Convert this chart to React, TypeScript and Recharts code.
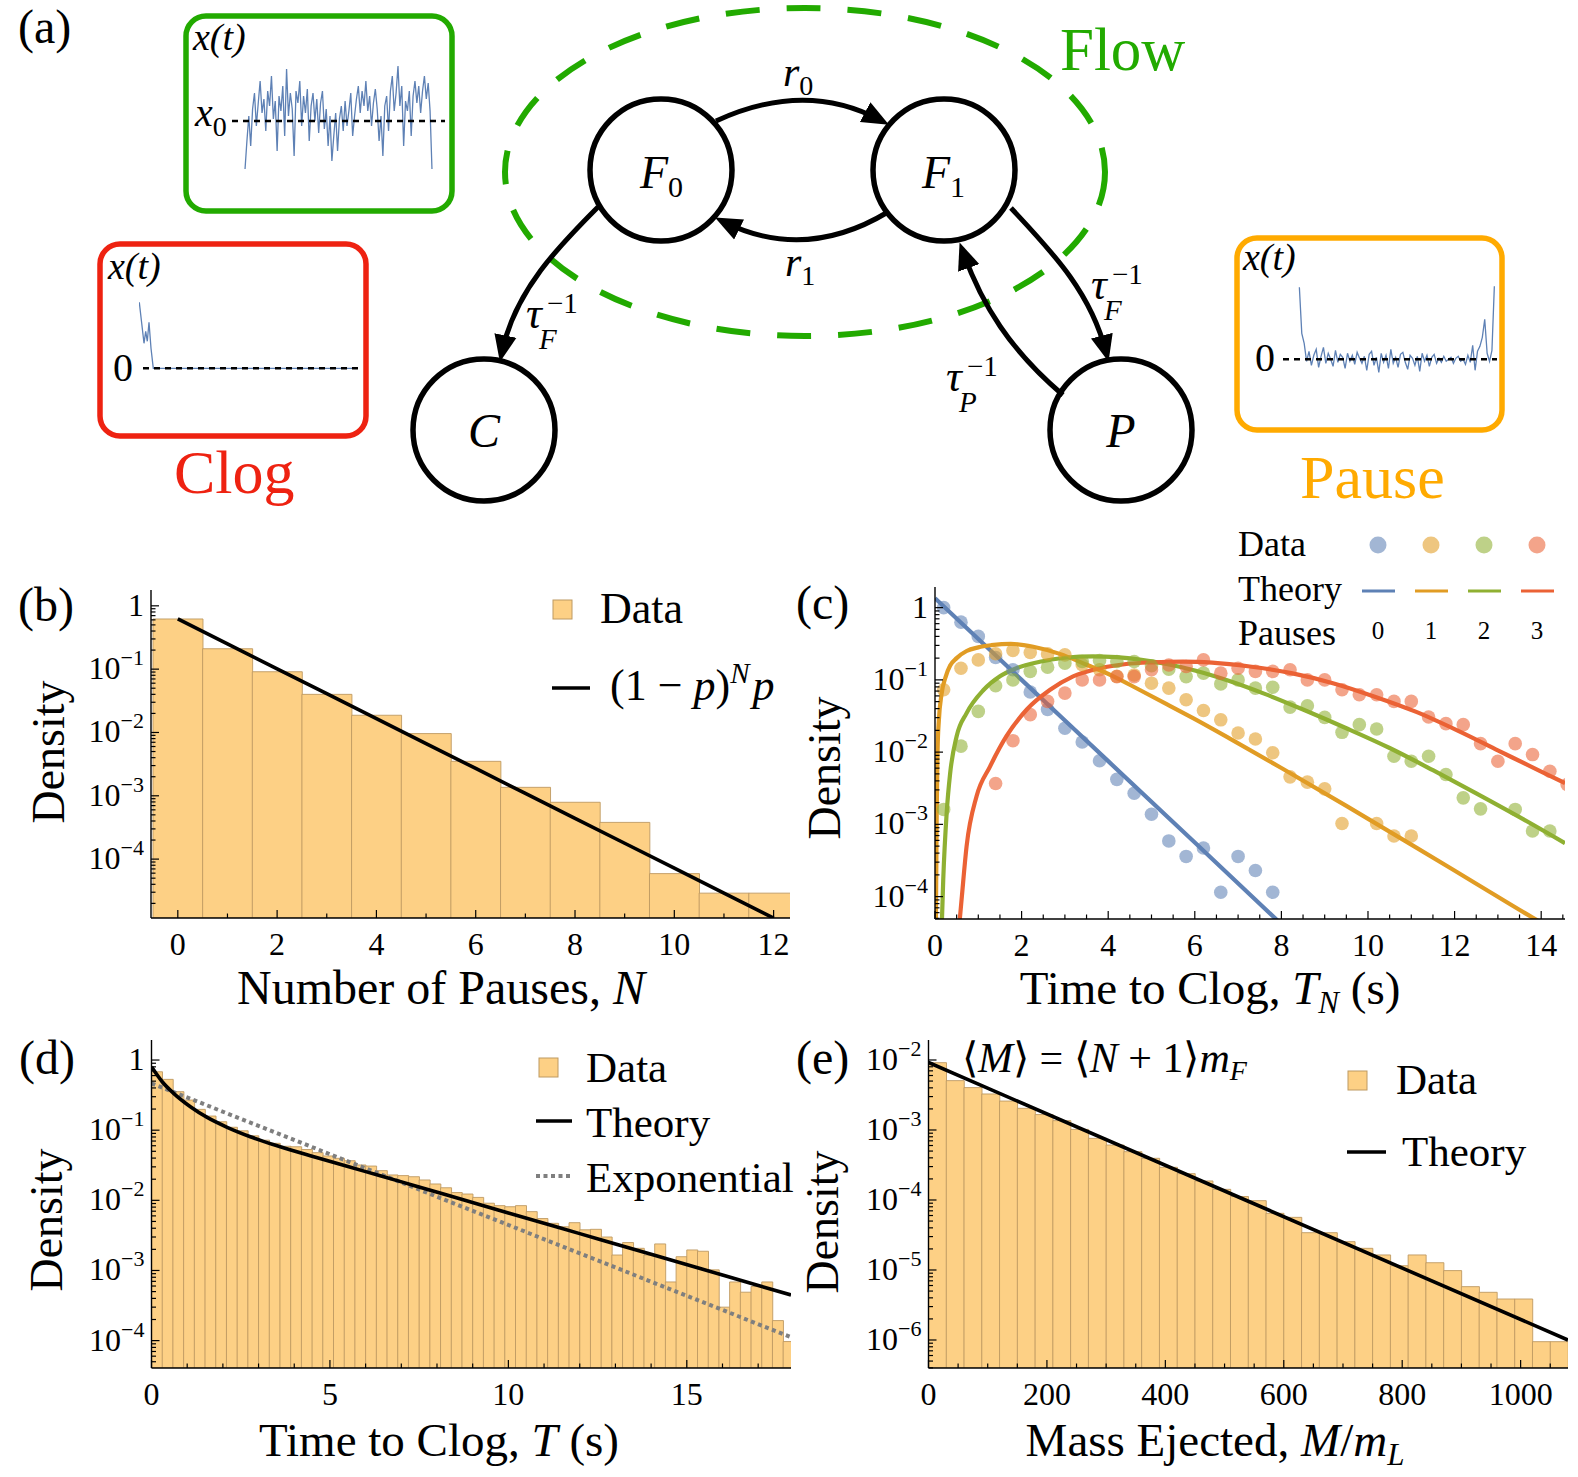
import React from 'react';
import { ComposedChart, LineChart, Line, Bar, Scatter, XAxis, YAxis, ReferenceLine } from 'recharts';

const FONT = '"Liberation Serif", "Times New Roman", serif';
const BAR_FILL = '#FDD085';
const BAR_STROKE = '#BE9A62';
const C_BLUE = '#5E81B5';
const C_ORANGE = '#E19C24';
const C_GREEN = '#8FB032';
const C_RED = '#EB6235';
const FLOW_GREEN = '#22AA00';
const CLOG_RED = '#EE2211';
const PAUSE_ORANGE = '#FFAA00';

// ---------- (b) number of pauses ----------
const pauseCounts = [0, 1, 2, 3, 4, 5, 6, 7, 8, 9, 10, 11, 12];
const pauseDensity = [0.62, 0.21, 0.091, 0.04, 0.0187, 0.0096, 0.0035, 0.00136, 0.00079, 0.00038, 0.000059, 0.000029, 0.000029];
const pauseTheory = [0.62, 0.25, 0.101, 0.0409, 0.0165, 0.00668, 0.0027, 0.00109, 0.00044, 0.000178, 0.000072, 0.000029, 0.0000117];
const pauseXMajors = [0, 2, 4, 6, 8, 10, 12];
const pauseDecades = [1, 0.1, 0.01, 0.001, 0.0001];

// ---------- (c) time to clog by number of pauses ----------
const clogBinCenters = [0.2, 0.6, 1.0, 1.4, 1.8, 2.2, 2.6, 3.0, 3.4, 3.8, 4.2, 4.6, 5.0, 5.4, 5.8, 6.2, 6.6, 7.0, 7.4, 7.8, 8.2, 8.6, 9.0, 9.4, 9.8, 10.2, 10.6, 11.0, 11.4, 11.8, 12.2, 12.6, 13.0, 13.4, 13.8, 14.2, 14.6];
const clogData0 = [1.0, 0.63, 0.4, 0.204, 0.138, 0.068, 0.039, 0.0214, 0.0138, 0.0076, 0.0042, 0.0027, 0.00138, 0.00059, 0.00036, 0.00047, 0.000115, 0.00036, 0.00023, 0.000115];
const clogData1 = [0.073, 0.145, 0.189, 0.23, 0.255, 0.239, 0.229, 0.222, 0.162, 0.138, 0.112, 0.117, 0.09, 0.077, 0.053, 0.0377, 0.028, 0.0184, 0.0152, 0.0098, 0.00455, 0.00384, 0.0031, 0.00103, null, 0.00103, 0.00069, 0.00069];
const clogData2 = [0.00161, 0.0121, 0.0366, 0.083, 0.1, 0.131, 0.15, 0.17, 0.18, 0.185, 0.18, 0.18, 0.157, 0.141, 0.111, 0.124, 0.088, 0.1, 0.077, 0.079, 0.042, 0.0439, 0.0303, 0.0188, 0.024, 0.0209, 0.00877, 0.00748, 0.00877, 0.0049, 0.00233, 0.00164, null, 0.00161, 0.00081, 0.00081];
const clogData3 = [null, null, null, 0.00368, 0.0144, 0.033, 0.0504, 0.0656, 0.1, 0.1, 0.111, 0.111, 0.138, 0.161, 0.153, 0.189, 0.124, 0.145, 0.131, 0.131, 0.138, 0.1, 0.1, 0.073, 0.0622, 0.0622, 0.0504, 0.0504, 0.0306, 0.0248, 0.024, 0.0131, 0.00748, 0.0131, 0.00925, 0.00544, 0.00356];
const theoryT0 = [0, 2, 4, 6, 8];
const theoryV0 = [1.35, 0.1, 0.0075, 0.00056, 0.0000415];
const theoryT1 = [0.02, 0.04, 0.06, 0.09, 0.15, 0.25, 0.35, 0.5, 0.73, 1.0, 1.3, 1.75, 2.27, 2.88, 3.5, 4.12, 4.73, 5.35, 5.96, 6.8, 8.0, 9.5, 11.0, 12.5, 13.8, 14.0];
const theoryV1 = [0.00004, 0.0016, 0.011, 0.028, 0.063, 0.112, 0.158, 0.2, 0.251, 0.282, 0.302, 0.316, 0.288, 0.229, 0.162, 0.112, 0.0724, 0.0462, 0.0295, 0.0155, 0.00603, 0.0018, 0.000525, 0.000151, 0.0000513, 0.0000437];
const theoryT2 = [0.15, 0.19, 0.27, 0.35, 0.5, 0.73, 1.12, 1.5, 1.88, 2.42, 3.04, 3.65, 4.19, 4.73, 5.35, 6.0, 6.8, 7.6, 8.5, 9.5, 10.5, 11.5, 12.5, 13.5, 14.55];
const theoryV2 = [0.00003, 0.00017, 0.00145, 0.0051, 0.0166, 0.0347, 0.0724, 0.112, 0.145, 0.178, 0.204, 0.212, 0.206, 0.191, 0.166, 0.135, 0.0966, 0.0646, 0.0389, 0.0214, 0.0114, 0.00562, 0.00269, 0.00126, 0.00055];
const theoryT3 = [0.56, 0.62, 0.73, 0.96, 1.27, 1.65, 2.12, 2.65, 3.19, 3.81, 4.42, 5.04, 5.73, 6.4, 7.27, 8.23, 9.19, 10.14, 11.1, 12.06, 13.01, 14.0, 14.55];
const theoryV3 = [0.00004, 0.0001, 0.0005, 0.00245, 0.0063, 0.0166, 0.0389, 0.0724, 0.112, 0.145, 0.166, 0.175, 0.179, 0.173, 0.153, 0.124, 0.09, 0.059, 0.0363, 0.02, 0.0105, 0.00537, 0.00372];
const clogXMajors = [0, 2, 4, 6, 8, 10, 12, 14];
const clogDecades = [1, 0.1, 0.01, 0.001, 0.0001];

// ---------- (d) time to clog ----------
const timeBinCenters = [0.15, 0.45, 0.75, 1.05, 1.35, 1.65, 1.95, 2.25, 2.55, 2.85, 3.15, 3.45, 3.75, 4.05, 4.35, 4.65, 4.95, 5.25, 5.55, 5.85, 6.15, 6.45, 6.75, 7.05, 7.35, 7.65, 7.95, 8.25, 8.55, 8.85, 9.15, 9.45, 9.75, 10.05, 10.35, 10.65, 10.95, 11.25, 11.55, 11.85, 12.15, 12.45, 12.75, 13.05, 13.35, 13.65, 13.95, 14.25, 14.55, 14.85, 15.15, 15.45, 15.75, 16.05, 16.35, 16.65, 16.95, 17.25, 17.55, 17.85];
const timeDensity = [0.68, 0.53, 0.354, 0.269, 0.198, 0.159, 0.132, 0.11, 0.098, 0.083, 0.072, 0.065, 0.059, 0.058, 0.053, 0.0478, 0.0429, 0.0397, 0.0367, 0.0319, 0.0308, 0.0265, 0.023, 0.0225, 0.0217, 0.0195, 0.0171, 0.0151, 0.0129, 0.0123, 0.011, 0.0091, 0.0084, 0.0081, 0.0084, 0.0069, 0.0055, 0.0047, 0.0042, 0.0048, 0.0038, 0.00386, 0.003, 0.00166, 0.0025, 0.00207, 0.00166, 0.00239, 0.000686, 0.00157, 0.00196, 0.00188, 0.00102, 0.0003, 0.000686, 0.00049, 0.00059, 0.000686, 0.000193, 0.000097];
const timeTheoryT = [0, 0.3, 0.62, 1.09, 1.56, 2.12, 2.77, 3.61, 4.55, 5.48, 6.41, 7.35, 8.28, 10, 12, 14, 16, 17.92];
const timeTheoryV = [0.8, 0.49, 0.335, 0.216, 0.152, 0.11, 0.0807, 0.0582, 0.0419, 0.0305, 0.0224, 0.0163, 0.0119, 0.0066, 0.00335, 0.0017, 0.00086, 0.000447];
const timeExpT = [0, 9, 17.92];
const timeExpV = [0.465, 0.00708, 0.000112];
const timeXMajors = [0, 5, 10, 15];
const timeDecades = [1, 0.1, 0.01, 0.001, 0.0001];

// ---------- (e) mass ejected ----------
const massBinCenters = [15, 45, 75, 105, 135, 165, 195, 225, 255, 285, 315, 345, 375, 405, 435, 465, 495, 525, 555, 585, 615, 645, 675, 705, 735, 765, 795, 825, 855, 885, 915, 945, 975, 1005, 1035, 1065];
const massDensity = [0.00916, 0.00507, 0.00403, 0.00327, 0.00259, 0.00204, 0.00166, 0.00136, 0.00102, 0.00076, 0.00061, 0.00049, 0.000394, 0.000293, 0.000238, 0.000187, 0.000142, 0.000112, 0.0000978, 0.0000645, 0.0000565, 0.0000341, 0.0000341, 0.0000254, 0.0000204, 0.0000164, 0.0000115, 0.0000164, 0.0000127, 0.0000098, 0.00000578, 0.0000048, 0.00000385, 0.00000385, 0.000000946, 0.000000946];
const massTheoryM = [0, 540, 1080];
const massTheoryV = [0.0092, 0.000096, 0.000001];
const massXMajors = [0, 200, 400, 600, 800, 1000];
const massDecades = [0.01, 0.001, 0.0001, 0.00001, 0.000001];

// ---------- (a) inset traces ----------
const flowTrace = [-48, -20, 5, -25, 12, 28, -5, 18, 40, 8, 22, -10, 30, 15, 45, 2, 20, -30, 25, 10, 35, -15, 52, 5, 28, 12, -35, 30, 18, 40, -5, 25, 8, 32, -20, 15, 28, 0, 22, -12, 18, 30, -8, 12, -25, 5, -40, -15, 8, -30, 2, 15, -10, 20, -5, 10, 28, -15, 5, 22, 35, 8, 30, 15, 40, 10, 25, -5, 18, 32, 12, -20, 5, -35, 15, 25, -10, 30, 45, 10, 28, 55, 15, 35, -25, 20, 10, 30, -15, 25, 40, 18, 35, 8, 30, 45, 22, 38, 10, -48];
const clogTraceX = [0.3, 2.7, 5, 6.7, 8.3, 10, 12, 14.3, 219];
const clogTraceV = [66, 45, 25, 37, 27, 46, 20, 0, 0];
const pauseTrace = [72, 26, 16, -2, 8, -6, 4, 10, -8, 3, 12, -4, 6, 0, -7, 9, -3, 5, 2, -9, 6, -2, 4, -5, 7, 1, -4, 3, -11, 5, 8, -6, 2, -13, 6, -3, 4, -9, 10, -4, 2, -8, 5, 7, -3, -10, 4, 1, -6, 3, -12, 6, -2, 4, -7, 2, 5, -4, 1, -3, 3, -2, 0, 2, -4, 1, 3, -2, 0, -5, 4, -3, 14, -11, 8, 13, 22, 40, 6, -2, 9, 73];

// ---------- helpers ----------
const YW = 60;
const XH = 40;
const range = (a: number, b: number, s: number) => {
  const o: number[] = [];
  for (let i = 0; a + i * s <= b + 1e-9; i++) o.push(+(a + i * s).toFixed(6));
  return o;
};
const logTicks = (lo: number, hi: number) => {
  const o: number[] = [];
  for (let e = Math.floor(Math.log10(lo)); e <= Math.ceil(Math.log10(hi)); e++) {
    for (let m = 1; m <= 9; m++) {
      const v = m * Math.pow(10, e);
      if (v >= lo && v <= hi) o.push(v);
    }
  }
  return o;
};
const near = (list: number[], v: number) => list.some((m) => Math.abs(m - v) <= Math.abs(m) * 1e-6 + 1e-9);

const YTick = (props: any) => {
  const { y, payload, pl, majors } = props;
  const v = payload.value;
  const major = near(majors, v);
  const e = Math.round(Math.log10(v));
  return (
    <g>
      <line x1={pl} x2={pl + (major ? 8 : 4.5)} y1={y} y2={y} stroke="#000" strokeWidth={1.2} />
      {major && (
        <text x={pl - 7} y={y + 10} textAnchor="end" fontFamily={FONT} fontSize={32} fill="#000">
          {e === 0 ? '1' : (
            <>
              10<tspan dy={-14} fontSize={22}>{'\u2212' + Math.abs(e)}</tspan>
            </>
          )}
        </text>
      )}
    </g>
  );
};

const XTick = (props: any) => {
  const { x, payload, pb, majors } = props;
  const v = payload.value;
  const major = near(majors, v);
  return (
    <g>
      <line x1={x} x2={x} y1={pb} y2={pb - (major ? 8 : 4.5)} stroke="#000" strokeWidth={1.2} />
      {major && (
        <text x={x} y={pb + 37} textAnchor="middle" fontFamily={FONT} fontSize={32} fill="#000">
          {v}
        </text>
      )}
    </g>
  );
};

type Box = { left: number; top: number; width: number; height: number };
type Plot = { l: number; r: number; t: number; b: number };
const marginOf = (box: Box, plot: Plot) => ({
  left: plot.l - box.left - YW,
  top: plot.t - box.top,
  right: box.left + box.width - plot.r,
  bottom: box.top + box.height - plot.b - XH,
});

type CurveSpec = { data: { x: number; y: number }[]; stroke: string; width: number; dash?: string; curve: 'linear' | 'monotone' };

function HistPanel(p: {
  box: Box; plot: Plot; xDomain: [number, number]; yDomain: [number, number];
  xTicks: number[]; xMajors: number[]; yMajors: number[];
  bins: { x: number; y: number }[]; curves: CurveSpec[];
}) {
  const m = marginOf(p.box, p.plot);
  const pl = p.plot.l - p.box.left;
  const pb = p.plot.b - p.box.top;
  return (
    <div style={{ position: 'absolute', left: p.box.left, top: p.box.top }}>
      <ComposedChart width={p.box.width} height={p.box.height} data={p.bins} margin={m} barCategoryGap={0} barGap={0}>
        <Bar xAxisId="bins" dataKey="y" fill={BAR_FILL} stroke={BAR_STROKE} strokeWidth={0.9} isAnimationActive={false} />
        {p.curves.map((c, i) => (
          <Line key={i} xAxisId="curve" data={c.data} dataKey="y" type={c.curve} stroke={c.stroke} strokeWidth={c.width}
            strokeDasharray={c.dash} dot={false} activeDot={false} isAnimationActive={false} />
        ))}
        <XAxis xAxisId="bins" type="number" dataKey="x" domain={p.xDomain} allowDataOverflow ticks={p.xTicks} interval={0}
          height={XH} tickSize={0} tickMargin={0} tickLine={false} axisLine={{ stroke: '#000', strokeWidth: 1.4 }}
          tick={<XTick pb={pb} majors={p.xMajors} />} />
        <XAxis xAxisId="curve" type="number" dataKey="x" domain={p.xDomain} allowDataOverflow hide />
        <YAxis type="number" scale="log" domain={p.yDomain} allowDataOverflow ticks={logTicks(p.yDomain[0], p.yDomain[1])} interval={0}
          width={YW} tickSize={0} tickMargin={0} tickLine={false} axisLine={{ stroke: '#000', strokeWidth: 1.4 }}
          tick={<YTick pl={pl} majors={p.yMajors} />} />
      </ComposedChart>
    </div>
  );
}

const dotShape = (color: string) => (props: any) => (
  <circle cx={props.cx} cy={props.cy} r={6.8} fill={color} fillOpacity={0.58} />
);

function ClogPanel() {
  const box = { left: 795, top: 560, width: 783, height: 470 };
  const plot = { l: 935, r: 1565, t: 587, b: 919 };
  const m = marginOf(box, plot);
  const pl = plot.l - box.left;
  const pb = plot.b - box.top;
  const yDomain: [number, number] = [0.000049, 1.93];
  const toPts = (vals: (number | null)[]) =>
    vals.map((v, i) => ({ t: clogBinCenters[i], v })).filter((d) => d.v !== null) as { t: number; v: number }[];
  const toCurve = (ts: number[], vs: number[]) => ts.map((t, i) => ({ t, v: vs[i] }));
  const dataSets = [clogData0, clogData1, clogData2, clogData3];
  const curves = [[theoryT0, theoryV0], [theoryT1, theoryV1], [theoryT2, theoryV2], [theoryT3, theoryV3]];
  const colors = [C_BLUE, C_ORANGE, C_GREEN, C_RED];
  return (
    <div style={{ position: 'absolute', left: box.left, top: box.top }}>
      <ComposedChart width={box.width} height={box.height} margin={m}>
        {dataSets.map((d, i) => (
          <Scatter key={'s' + i} data={toPts(d)} dataKey="v" fill={colors[i]} shape={dotShape(colors[i])} isAnimationActive={false} />
        ))}
        {curves.map((c, i) => (
          <Line key={'l' + i} data={toCurve(c[0], c[1])} dataKey="v" type="monotone" stroke={colors[i]} strokeWidth={4.2}
            dot={false} activeDot={false} isAnimationActive={false} />
        ))}
        <XAxis type="number" dataKey="t" domain={[0, 14.55]} allowDataOverflow ticks={range(0, 14.5, 0.5)} interval={0}
          height={XH} tickSize={0} tickMargin={0} tickLine={false} axisLine={{ stroke: '#000', strokeWidth: 1.4 }}
          tick={<XTick pb={pb} majors={clogXMajors} />} />
        <YAxis type="number" dataKey="v" scale="log" domain={yDomain} allowDataOverflow ticks={logTicks(yDomain[0], yDomain[1])} interval={0}
          width={YW} tickSize={0} tickMargin={0} tickLine={false} axisLine={{ stroke: '#000', strokeWidth: 1.4 }}
          tick={<YTick pl={pl} majors={clogDecades} />} />
      </ComposedChart>
    </div>
  );
}

function Inset(p: { left: number; top: number; width: number; height: number; data: { x: number; v: number }[];
  xDomain: [number, number]; yDomain: [number, number]; dashFrom?: number }) {
  return (
    <div style={{ position: 'absolute', left: p.left, top: p.top }}>
      <LineChart width={p.width} height={p.height} data={p.data} margin={{ top: 0, right: 0, bottom: 0, left: 0 }}>
        <XAxis type="number" dataKey="x" domain={p.xDomain} allowDataOverflow hide />
        <YAxis type="number" domain={p.yDomain} allowDataOverflow hide />
        <Line dataKey="v" type="linear" stroke={C_BLUE} strokeWidth={1.3} dot={false} activeDot={false} isAnimationActive={false} />
        {p.dashFrom !== undefined ? (
          <ReferenceLine segment={[{ x: p.dashFrom, y: 0 }, { x: p.xDomain[1], y: 0 }]} stroke="#000" strokeWidth={2.6} strokeDasharray="6 5" />
        ) : (
          <ReferenceLine y={0} stroke="#000" strokeWidth={2.6} strokeDasharray="6 5" />
        )}
      </LineChart>
    </div>
  );
}

const Txt = (p: { x: number; y: number; s: number; a?: 'start' | 'middle' | 'end'; i?: boolean; f?: string; children: any }) => (
  <text x={p.x} y={p.y} fontSize={p.s} textAnchor={p.a || 'start'} fontStyle={p.i ? 'italic' : 'normal'} fill={p.f || '#000'} fontFamily={FONT}>
    {p.children}
  </text>
);

const Tau = (p: { x: number; y: number; sub: string }) => (
  <g>
    <Txt x={p.x} y={p.y} s={44} i>τ</Txt>
    <Txt x={p.x + 21} y={p.y - 15} s={29}>{'\u22121'}</Txt>
    <Txt x={p.x + 13} y={p.y + 21} s={29} i>{p.sub}</Txt>
  </g>
);

function Overlay() {
  const sw = 5.5;
  return (
    <svg width={1578} height={1477} style={{ position: 'absolute', left: 0, top: 0, pointerEvents: 'none' }}>
      <defs>
        <marker id="ah" viewBox="0 0 12 10" refX="7.5" refY="5" markerWidth="27" markerHeight="23" markerUnits="userSpaceOnUse" orient="auto">
          <path d="M0,0 L12,5 L0,10 z" fill="#000" />
        </marker>
      </defs>
      {/* panel labels */}
      <Txt x={18} y={43} s={48}>(a)</Txt>
      <Txt x={18} y={621} s={48}>(b)</Txt>
      <Txt x={796} y={619} s={48}>(c)</Txt>
      <Txt x={19} y={1074} s={48}>(d)</Txt>
      <Txt x={796} y={1074} s={48}>(e)</Txt>

      {/* (a) diagram */}
      <ellipse cx={805} cy={172} rx={300} ry={164} fill="none" stroke={FLOW_GREEN} strokeWidth={6} strokeDasharray="34 27" />
      <Txt x={1060} y={70} s={61} f={FLOW_GREEN}>Flow</Txt>
      <Txt x={174} y={493} s={62} f={CLOG_RED}>Clog</Txt>
      <Txt x={1300} y={498} s={62} f={PAUSE_ORANGE}>Pause</Txt>
      {[[661, 170], [944, 170], [484, 430], [1121, 430]].map(([cx, cy], i) => (
        <circle key={i} cx={cx} cy={cy} r={71} fill="#fff" stroke="#000" strokeWidth={sw} />
      ))}
      <text x={640} y={188} fontFamily={FONT} fontSize={46} fontStyle="italic">F<tspan fontStyle="normal" fontSize={30} dy={9}>0</tspan></text>
      <text x={922} y={188} fontFamily={FONT} fontSize={46} fontStyle="italic">F<tspan fontStyle="normal" fontSize={30} dy={9}>1</tspan></text>
      <Txt x={484} y={447} s={48} a="middle" i>C</Txt>
      <Txt x={1121} y={447} s={48} a="middle" i>P</Txt>
      <g fill="none" stroke="#000" strokeWidth={5} markerEnd="url(#ah)">
        <path d="M 716 121 Q 805 80 880 120" />
        <path d="M 888 212 Q 805 262 724 222" />
        <path d="M 598 207 C 560 245, 515 290, 502 352" />
        <path d="M 1011 208 C 1050 250, 1090 290, 1106 352" />
        <path d="M 1063 395 C 1010 350, 982 305, 963 252" />
      </g>
      <text x={783} y={86} fontFamily={FONT} fontSize={42} fontStyle="italic">r<tspan fontStyle="normal" fontSize={28} dy={9}>0</tspan></text>
      <text x={785} y={276} fontFamily={FONT} fontSize={42} fontStyle="italic">r<tspan fontStyle="normal" fontSize={28} dy={9}>1</tspan></text>
      <Tau x={526} y={328} sub="F" />
      <Tau x={1091} y={299} sub="F" />
      <Tau x={946} y={391} sub="P" />

      {/* insets frames and labels */}
      <rect x={186} y={16} width={266} height={195} rx={20} fill="none" stroke={FLOW_GREEN} strokeWidth={5.5} />
      <rect x={100} y={244} width={266} height={192} rx={20} fill="none" stroke={CLOG_RED} strokeWidth={5.5} />
      <rect x={1237} y={238} width={265} height={192} rx={20} fill="none" stroke={PAUSE_ORANGE} strokeWidth={5.5} />
      <Txt x={193} y={50} s={38} i>x(t)</Txt>
      <Txt x={108} y={279} s={38} i>x(t)</Txt>
      <Txt x={1243} y={270} s={38} i>x(t)</Txt>
      <text x={195} y={126} fontFamily={FONT} fontSize={40} fontStyle="italic">x<tspan fontStyle="normal" fontSize={28} dy={10}>0</tspan></text>
      <Txt x={113} y={381} s={40}>0</Txt>
      <Txt x={1255} y={371} s={40}>0</Txt>

      {/* (b) legend & titles */}
      <rect x={553} y={600} width={19} height={19} fill={BAR_FILL} stroke={BAR_STROKE} strokeWidth={1} />
      <Txt x={600} y={623} s={44}>Data</Txt>
      <line x1={552} x2={590} y1={688} y2={688} stroke="#000" strokeWidth={3.5} />
      <text x={610} y={700} fontFamily={FONT} fontSize={44}>
        (1 {'\u2212'} <tspan fontStyle="italic">p</tspan>)<tspan fontStyle="italic" fontSize={29} dy={-17}>N</tspan><tspan fontStyle="italic" dy={17} dx={3}>p</tspan>
      </text>
      <Txt x={441} y={1004} s={48} a="middle">Number of Pauses, <tspan fontStyle="italic">N</tspan></Txt>
      <g transform="translate(64,752) rotate(-90)"><Txt x={0} y={0} s={46} a="middle">Density</Txt></g>

      {/* (c) legend & titles */}
      <Txt x={1238} y={556} s={36}>Data</Txt>
      <Txt x={1238} y={601} s={36}>Theory</Txt>
      <Txt x={1238} y={645} s={36}>Pauses</Txt>
      {[C_BLUE, C_ORANGE, C_GREEN, C_RED].map((c, i) => (
        <g key={i}>
          <circle cx={1378 + 53 * i} cy={545} r={8.5} fill={c} fillOpacity={0.58} />
          <line x1={1362 + 53 * i} x2={1395 + 53 * i} y1={591} y2={591} stroke={c} strokeWidth={3} />
          <Txt x={1378 + 53 * i} y={639} s={25} a="middle">{String(i)}</Txt>
        </g>
      ))}
      <text x={1210} y={1004} fontFamily={FONT} fontSize={47} textAnchor="middle">
        Time to Clog, <tspan fontStyle="italic">T</tspan><tspan fontStyle="italic" fontSize={31} dy={9}>N</tspan><tspan dy={-9}> (s)</tspan>
      </text>
      <g transform="translate(840,768) rotate(-90)"><Txt x={0} y={0} s={46} a="middle">Density</Txt></g>

      {/* (d) legend & titles */}
      <rect x={539} y={1058} width={19} height={19} fill={BAR_FILL} stroke={BAR_STROKE} strokeWidth={1} />
      <Txt x={586} y={1082} s={43}>Data</Txt>
      <line x1={536} x2={572} y1={1121} y2={1121} stroke="#000" strokeWidth={3.5} />
      <Txt x={586} y={1137} s={43}>Theory</Txt>
      <line x1={536} x2={572} y1={1176} y2={1176} stroke="#7F7F7F" strokeWidth={4} strokeDasharray="4 3.5" />
      <Txt x={586} y={1192} s={43}>Exponential</Txt>
      <text x={439} y={1456} fontFamily={FONT} fontSize={47} textAnchor="middle">
        Time to Clog, <tspan fontStyle="italic">T</tspan> (s)
      </text>
      <g transform="translate(62,1220) rotate(-90)"><Txt x={0} y={0} s={46} a="middle">Density</Txt></g>

      {/* (e) legend & titles */}
      <text x={962} y={1072} fontFamily={FONT} fontSize={42}>
        {'\u27E8'}<tspan fontStyle="italic">M</tspan>{'\u27E9 = \u27E8'}<tspan fontStyle="italic">N</tspan>{' + 1\u27E9'}<tspan fontStyle="italic">m</tspan><tspan fontStyle="italic" fontSize={28} dy={8}>F</tspan>
      </text>
      <rect x={1348} y={1071} width={19} height={19} fill={BAR_FILL} stroke={BAR_STROKE} strokeWidth={1} />
      <Txt x={1396} y={1094} s={43}>Data</Txt>
      <line x1={1347} x2={1386} y1={1152} y2={1152} stroke="#000" strokeWidth={3.5} />
      <Txt x={1402} y={1166} s={43}>Theory</Txt>
      <text x={1215} y={1456} fontFamily={FONT} fontSize={47} textAnchor="middle">
        Mass Ejected, <tspan fontStyle="italic">M</tspan>/<tspan fontStyle="italic">m</tspan><tspan fontStyle="italic" fontSize={31} dy={9}>L</tspan>
      </text>
      <g transform="translate(838,1222) rotate(-90)"><Txt x={0} y={0} s={46} a="middle">Density</Txt></g>
    </svg>
  );
}

export default function App() {
  const bBins = pauseCounts.map((n, i) => ({ x: n, y: pauseDensity[i] }));
  const bCurve = pauseCounts.map((n, i) => ({ x: n, y: pauseTheory[i] }));
  const dBins = timeBinCenters.map((t, i) => ({ x: t, y: timeDensity[i] }));
  const dTheory = timeTheoryT.map((t, i) => ({ x: t, y: timeTheoryV[i] }));
  const dExp = timeExpT.map((t, i) => ({ x: t, y: timeExpV[i] }));
  const eBins = massBinCenters.map((mm, i) => ({ x: mm, y: massDensity[i] }));
  const eTheory = massTheoryM.map((mm, i) => ({ x: mm, y: massTheoryV[i] }));
  const flowData = flowTrace.map((v, i) => ({ x: i, v }));
  const clogData = clogTraceX.map((x, i) => ({ x, v: clogTraceV[i] }));
  const pauseData = pauseTrace.map((v, i) => ({ x: i, v }));

  return (
    <div style={{ position: 'absolute', left: 0, top: 0, width: 1578, height: 1477, background: '#fff', overflow: 'hidden', fontFamily: FONT }}>
      <Inset left={232} top={60} width={213} height={120} data={flowData} xDomain={[-6.9, 105.9]} yDomain={[-59, 61]} />
      <Inset left={139} top={290} width={219} height={100} data={clogData} xDomain={[0, 219]} yDomain={[-21.7, 78.3]} dashFrom={4} />
      <Inset left={1283} top={270} width={214} height={120} data={pauseData} xDomain={[-6.8, 82.1]} yDomain={[-30.7, 89.3]} />

      <HistPanel box={{ left: 0, top: 560, width: 800, height: 470 }} plot={{ l: 151, r: 790, t: 590, b: 918 }}
        xDomain={[-0.54, 12.33]} yDomain={[0.00001175, 1.778]} xTicks={range(0, 12, 1)} xMajors={pauseXMajors} yMajors={pauseDecades}
        bins={bBins} curves={[{ data: bCurve, stroke: '#000', width: 3.6, curve: 'linear' }]} />
      <ClogPanel />
      <HistPanel box={{ left: 0, top: 1020, width: 800, height: 457 }} plot={{ l: 151.5, r: 791, t: 1040, b: 1368 }}
        xDomain={[0, 17.92]} yDomain={[0.0000407, 1.93]} xTicks={range(0, 17, 1)} xMajors={timeXMajors} yMajors={timeDecades}
        bins={dBins} curves={[
          { data: dExp, stroke: '#7F7F7F', width: 4, dash: '4 3.5', curve: 'linear' },
          { data: dTheory, stroke: '#000', width: 3.6, curve: 'monotone' },
        ]} />
      <HistPanel box={{ left: 795, top: 1020, width: 783, height: 457 }} plot={{ l: 928.5, r: 1568, t: 1040, b: 1368 }}
        xDomain={[0, 1080]} yDomain={[0.000000398, 0.0193]} xTicks={range(0, 1050, 50)} xMajors={massXMajors} yMajors={massDecades}
        bins={eBins} curves={[{ data: eTheory, stroke: '#000', width: 3.6, curve: 'linear' }]} />
      <Overlay />
    </div>
  );
}
